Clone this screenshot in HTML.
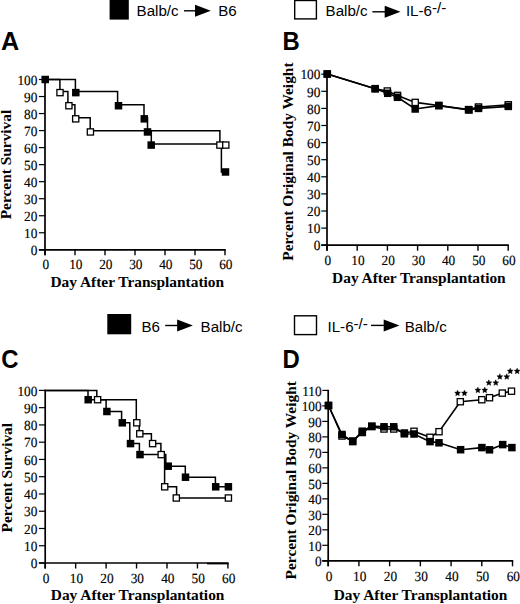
<!DOCTYPE html>
<html><head><meta charset="utf-8"><style>
html,body{margin:0;padding:0;background:#fff;}
body{width:520px;height:604px;overflow:hidden;}
svg{display:block;}
.tk{text-rendering:geometricPrecision;font-family:"Liberation Serif",serif;font-size:14px;fill:#000;stroke:#000;stroke-width:0.15px;}
.at{font-family:"Liberation Serif",serif;font-weight:bold;font-size:15.4px;fill:#000;}
.pl{font-family:"Liberation Sans",sans-serif;font-weight:bold;font-size:26px;fill:#000;}
.lg{font-family:"Liberation Sans",sans-serif;font-size:14px;fill:#000;}
</style></head><body>
<svg width="520" height="604" viewBox="0 0 520 604">
<line x1="45.0" y1="78.9" x2="45.0" y2="255.3" stroke="#000" stroke-width="1.7"/>
<line x1="38.9" y1="249.8" x2="225.7" y2="249.8" stroke="#000" stroke-width="1.7"/>
<line x1="45.0" y1="249.8" x2="45.0" y2="255.3" stroke="#000" stroke-width="1.4"/>
<text transform="translate(45.80,269.40) scale(0.95,1)" class="tk" text-anchor="middle">0</text>
<line x1="75.0" y1="249.8" x2="75.0" y2="255.3" stroke="#000" stroke-width="1.4"/>
<text transform="translate(75.80,269.40) scale(0.95,1)" class="tk" text-anchor="middle">10</text>
<line x1="105.0" y1="249.8" x2="105.0" y2="255.3" stroke="#000" stroke-width="1.4"/>
<text transform="translate(105.80,269.40) scale(0.95,1)" class="tk" text-anchor="middle">20</text>
<line x1="135.0" y1="249.8" x2="135.0" y2="255.3" stroke="#000" stroke-width="1.4"/>
<text transform="translate(135.80,269.40) scale(0.95,1)" class="tk" text-anchor="middle">30</text>
<line x1="165.0" y1="249.8" x2="165.0" y2="255.3" stroke="#000" stroke-width="1.4"/>
<text transform="translate(165.80,269.40) scale(0.95,1)" class="tk" text-anchor="middle">40</text>
<line x1="195.0" y1="249.8" x2="195.0" y2="255.3" stroke="#000" stroke-width="1.4"/>
<text transform="translate(195.80,269.40) scale(0.95,1)" class="tk" text-anchor="middle">50</text>
<line x1="225.0" y1="249.8" x2="225.0" y2="255.3" stroke="#000" stroke-width="1.4"/>
<text transform="translate(225.80,269.40) scale(0.95,1)" class="tk" text-anchor="middle">60</text>
<line x1="38.9" y1="249.8" x2="45.0" y2="249.8" stroke="#000" stroke-width="1.2"/>
<text transform="translate(37.40,255.00) scale(0.95,1)" class="tk" text-anchor="end">0</text>
<line x1="38.9" y1="232.77" x2="45.0" y2="232.77" stroke="#000" stroke-width="1.2"/>
<text transform="translate(37.40,237.97) scale(0.95,1)" class="tk" text-anchor="end">10</text>
<line x1="38.9" y1="215.74" x2="45.0" y2="215.74" stroke="#000" stroke-width="1.2"/>
<text transform="translate(37.40,220.94) scale(0.95,1)" class="tk" text-anchor="end">20</text>
<line x1="38.9" y1="198.71" x2="45.0" y2="198.71" stroke="#000" stroke-width="1.2"/>
<text transform="translate(37.40,203.91) scale(0.95,1)" class="tk" text-anchor="end">30</text>
<line x1="38.9" y1="181.68" x2="45.0" y2="181.68" stroke="#000" stroke-width="1.2"/>
<text transform="translate(37.40,186.88) scale(0.95,1)" class="tk" text-anchor="end">40</text>
<line x1="38.9" y1="164.65" x2="45.0" y2="164.65" stroke="#000" stroke-width="1.2"/>
<text transform="translate(37.40,169.85) scale(0.95,1)" class="tk" text-anchor="end">50</text>
<line x1="38.9" y1="147.62" x2="45.0" y2="147.62" stroke="#000" stroke-width="1.2"/>
<text transform="translate(37.40,152.82) scale(0.95,1)" class="tk" text-anchor="end">60</text>
<line x1="38.9" y1="130.59" x2="45.0" y2="130.59" stroke="#000" stroke-width="1.2"/>
<text transform="translate(37.40,135.79) scale(0.95,1)" class="tk" text-anchor="end">70</text>
<line x1="38.9" y1="113.56" x2="45.0" y2="113.56" stroke="#000" stroke-width="1.2"/>
<text transform="translate(37.40,118.76) scale(0.95,1)" class="tk" text-anchor="end">80</text>
<line x1="38.9" y1="96.53" x2="45.0" y2="96.53" stroke="#000" stroke-width="1.2"/>
<text transform="translate(37.40,101.73) scale(0.95,1)" class="tk" text-anchor="end">90</text>
<line x1="38.9" y1="79.5" x2="45.0" y2="79.5" stroke="#000" stroke-width="1.2"/>
<text transform="translate(37.40,84.70) scale(0.95,1)" class="tk" text-anchor="end">100</text>
<polyline points="45.00,79.50 59.90,79.50 59.90,91.51 67.90,91.51 67.90,104.63 74.90,104.63 74.90,117.74 90.20,117.74 90.20,130.85 219.90,130.85 219.90,143.97" fill="none" stroke="#000" stroke-width="1.5" stroke-linejoin="miter" stroke-linecap="square"/>
<polyline points="45.00,79.50 75.40,79.50 75.40,91.51 117.60,91.51 117.60,104.63 144.00,104.63 144.00,117.74 147.50,117.74 147.50,130.85 151.30,130.85 151.30,143.97 221.40,143.97 221.40,171.97" fill="none" stroke="#000" stroke-width="1.5" stroke-linejoin="miter" stroke-linecap="square"/>
<rect x="56.90" y="89.51" width="6.20" height="6.20" fill="#fff" stroke="#000" stroke-width="1.3"/>
<rect x="65.80" y="102.63" width="6.20" height="6.20" fill="#fff" stroke="#000" stroke-width="1.3"/>
<rect x="72.60" y="115.74" width="6.20" height="6.20" fill="#fff" stroke="#000" stroke-width="1.3"/>
<rect x="87.30" y="128.85" width="6.20" height="6.20" fill="#fff" stroke="#000" stroke-width="1.3"/>
<rect x="216.80" y="141.97" width="6.20" height="6.20" fill="#fff" stroke="#000" stroke-width="1.3"/>
<rect x="222.70" y="141.97" width="6.20" height="6.20" fill="#fff" stroke="#000" stroke-width="1.3"/>
<rect x="41.45" y="75.75" width="7.50" height="7.50" fill="#000"/>
<rect x="72.05" y="88.86" width="7.50" height="7.50" fill="#000"/>
<rect x="114.75" y="101.98" width="7.50" height="7.50" fill="#000"/>
<rect x="140.55" y="115.09" width="7.50" height="7.50" fill="#000"/>
<rect x="143.75" y="128.20" width="7.50" height="7.50" fill="#000"/>
<rect x="147.45" y="141.32" width="7.50" height="7.50" fill="#000"/>
<rect x="221.75" y="168.22" width="7.50" height="7.50" fill="#000"/>
<line x1="327.0" y1="73.6" x2="327.0" y2="250.7" stroke="#000" stroke-width="1.7"/>
<line x1="321.3" y1="245.2" x2="508.9" y2="245.2" stroke="#000" stroke-width="1.7"/>
<line x1="327.0" y1="245.2" x2="327.0" y2="250.7" stroke="#000" stroke-width="1.4"/>
<text transform="translate(327.80,265.00) scale(0.95,1)" class="tk" text-anchor="middle">0</text>
<line x1="357.2" y1="245.2" x2="357.2" y2="250.7" stroke="#000" stroke-width="1.4"/>
<text transform="translate(358.00,265.00) scale(0.95,1)" class="tk" text-anchor="middle">10</text>
<line x1="387.4" y1="245.2" x2="387.4" y2="250.7" stroke="#000" stroke-width="1.4"/>
<text transform="translate(388.20,265.00) scale(0.95,1)" class="tk" text-anchor="middle">20</text>
<line x1="417.6" y1="245.2" x2="417.6" y2="250.7" stroke="#000" stroke-width="1.4"/>
<text transform="translate(418.40,265.00) scale(0.95,1)" class="tk" text-anchor="middle">30</text>
<line x1="447.8" y1="245.2" x2="447.8" y2="250.7" stroke="#000" stroke-width="1.4"/>
<text transform="translate(448.60,265.00) scale(0.95,1)" class="tk" text-anchor="middle">40</text>
<line x1="478.0" y1="245.2" x2="478.0" y2="250.7" stroke="#000" stroke-width="1.4"/>
<text transform="translate(478.80,265.00) scale(0.95,1)" class="tk" text-anchor="middle">50</text>
<line x1="508.2" y1="245.2" x2="508.2" y2="250.7" stroke="#000" stroke-width="1.4"/>
<text transform="translate(509.00,265.00) scale(0.95,1)" class="tk" text-anchor="middle">60</text>
<line x1="321.3" y1="245.2" x2="327.0" y2="245.2" stroke="#000" stroke-width="1.2"/>
<text transform="translate(320.40,250.40) scale(0.95,1)" class="tk" text-anchor="end">0</text>
<line x1="321.3" y1="228.1" x2="327.0" y2="228.1" stroke="#000" stroke-width="1.2"/>
<text transform="translate(320.40,233.30) scale(0.95,1)" class="tk" text-anchor="end">10</text>
<line x1="321.3" y1="211.0" x2="327.0" y2="211.0" stroke="#000" stroke-width="1.2"/>
<text transform="translate(320.40,216.20) scale(0.95,1)" class="tk" text-anchor="end">20</text>
<line x1="321.3" y1="193.89999999999998" x2="327.0" y2="193.89999999999998" stroke="#000" stroke-width="1.2"/>
<text transform="translate(320.40,199.10) scale(0.95,1)" class="tk" text-anchor="end">30</text>
<line x1="321.3" y1="176.79999999999998" x2="327.0" y2="176.79999999999998" stroke="#000" stroke-width="1.2"/>
<text transform="translate(320.40,182.00) scale(0.95,1)" class="tk" text-anchor="end">40</text>
<line x1="321.3" y1="159.7" x2="327.0" y2="159.7" stroke="#000" stroke-width="1.2"/>
<text transform="translate(320.40,164.90) scale(0.95,1)" class="tk" text-anchor="end">50</text>
<line x1="321.3" y1="142.6" x2="327.0" y2="142.6" stroke="#000" stroke-width="1.2"/>
<text transform="translate(320.40,147.80) scale(0.95,1)" class="tk" text-anchor="end">60</text>
<line x1="321.3" y1="125.49999999999999" x2="327.0" y2="125.49999999999999" stroke="#000" stroke-width="1.2"/>
<text transform="translate(320.40,130.70) scale(0.95,1)" class="tk" text-anchor="end">70</text>
<line x1="321.3" y1="108.39999999999998" x2="327.0" y2="108.39999999999998" stroke="#000" stroke-width="1.2"/>
<text transform="translate(320.40,113.60) scale(0.95,1)" class="tk" text-anchor="end">80</text>
<line x1="321.3" y1="91.29999999999998" x2="327.0" y2="91.29999999999998" stroke="#000" stroke-width="1.2"/>
<text transform="translate(320.40,96.50) scale(0.95,1)" class="tk" text-anchor="end">90</text>
<line x1="321.3" y1="74.19999999999999" x2="327.0" y2="74.19999999999999" stroke="#000" stroke-width="1.2"/>
<text transform="translate(320.40,79.40) scale(0.95,1)" class="tk" text-anchor="end">100</text>
<polyline points="327.30,74.00 375.20,88.70 387.30,91.00 397.50,95.40 415.20,102.40 438.80,105.50 468.50,109.60 478.50,107.00 508.30,104.80" fill="none" stroke="#000" stroke-width="1.6" stroke-linejoin="miter" stroke-linecap="square"/>
<polyline points="327.30,74.00 375.20,88.70 387.70,93.30 397.50,97.30 415.20,109.00 438.80,105.60 469.00,110.00 478.50,108.40 508.30,106.40" fill="none" stroke="#000" stroke-width="1.6" stroke-linejoin="miter" stroke-linecap="square"/>
<rect x="324.20" y="70.90" width="6.20" height="6.20" fill="#fff" stroke="#000" stroke-width="1.3"/>
<rect x="372.10" y="85.60" width="6.20" height="6.20" fill="#fff" stroke="#000" stroke-width="1.3"/>
<rect x="384.20" y="87.90" width="6.20" height="6.20" fill="#fff" stroke="#000" stroke-width="1.3"/>
<rect x="394.40" y="92.30" width="6.20" height="6.20" fill="#fff" stroke="#000" stroke-width="1.3"/>
<rect x="412.10" y="99.30" width="6.20" height="6.20" fill="#fff" stroke="#000" stroke-width="1.3"/>
<rect x="435.70" y="102.40" width="6.20" height="6.20" fill="#fff" stroke="#000" stroke-width="1.3"/>
<rect x="465.40" y="106.50" width="6.20" height="6.20" fill="#fff" stroke="#000" stroke-width="1.3"/>
<rect x="475.40" y="103.90" width="6.20" height="6.20" fill="#fff" stroke="#000" stroke-width="1.3"/>
<rect x="505.20" y="101.70" width="6.20" height="6.20" fill="#fff" stroke="#000" stroke-width="1.3"/>
<rect x="323.55" y="70.25" width="7.50" height="7.50" fill="#000"/>
<rect x="371.45" y="84.95" width="7.50" height="7.50" fill="#000"/>
<rect x="383.95" y="89.55" width="7.50" height="7.50" fill="#000"/>
<rect x="393.75" y="93.55" width="7.50" height="7.50" fill="#000"/>
<rect x="411.45" y="105.25" width="7.50" height="7.50" fill="#000"/>
<rect x="435.05" y="101.85" width="7.50" height="7.50" fill="#000"/>
<rect x="465.25" y="106.25" width="7.50" height="7.50" fill="#000"/>
<rect x="474.75" y="104.65" width="7.50" height="7.50" fill="#000"/>
<rect x="504.55" y="102.65" width="7.50" height="7.50" fill="#000"/>
<line x1="45.2" y1="389.79999999999995" x2="45.2" y2="568.5" stroke="#000" stroke-width="1.7"/>
<line x1="38.9" y1="563.0" x2="228.59999999999997" y2="563.0" stroke="#000" stroke-width="1.7"/>
<line x1="45.2" y1="563.0" x2="45.2" y2="568.5" stroke="#000" stroke-width="1.4"/>
<text transform="translate(46.00,582.80) scale(0.95,1)" class="tk" text-anchor="middle">0</text>
<line x1="75.65" y1="563.0" x2="75.65" y2="568.5" stroke="#000" stroke-width="1.4"/>
<text transform="translate(76.45,582.80) scale(0.95,1)" class="tk" text-anchor="middle">10</text>
<line x1="106.1" y1="563.0" x2="106.1" y2="568.5" stroke="#000" stroke-width="1.4"/>
<text transform="translate(106.90,582.80) scale(0.95,1)" class="tk" text-anchor="middle">20</text>
<line x1="136.55" y1="563.0" x2="136.55" y2="568.5" stroke="#000" stroke-width="1.4"/>
<text transform="translate(137.35,582.80) scale(0.95,1)" class="tk" text-anchor="middle">30</text>
<line x1="167.0" y1="563.0" x2="167.0" y2="568.5" stroke="#000" stroke-width="1.4"/>
<text transform="translate(167.80,582.80) scale(0.95,1)" class="tk" text-anchor="middle">40</text>
<line x1="197.45" y1="563.0" x2="197.45" y2="568.5" stroke="#000" stroke-width="1.4"/>
<text transform="translate(198.25,582.80) scale(0.95,1)" class="tk" text-anchor="middle">50</text>
<line x1="227.89999999999998" y1="563.0" x2="227.89999999999998" y2="568.5" stroke="#000" stroke-width="1.4"/>
<text transform="translate(228.70,582.80) scale(0.95,1)" class="tk" text-anchor="middle">60</text>
<line x1="38.9" y1="563.0" x2="45.2" y2="563.0" stroke="#000" stroke-width="1.2"/>
<text transform="translate(37.40,568.20) scale(0.95,1)" class="tk" text-anchor="end">0</text>
<line x1="38.9" y1="545.74" x2="45.2" y2="545.74" stroke="#000" stroke-width="1.2"/>
<text transform="translate(37.40,550.94) scale(0.95,1)" class="tk" text-anchor="end">10</text>
<line x1="38.9" y1="528.48" x2="45.2" y2="528.48" stroke="#000" stroke-width="1.2"/>
<text transform="translate(37.40,533.68) scale(0.95,1)" class="tk" text-anchor="end">20</text>
<line x1="38.9" y1="511.22" x2="45.2" y2="511.22" stroke="#000" stroke-width="1.2"/>
<text transform="translate(37.40,516.42) scale(0.95,1)" class="tk" text-anchor="end">30</text>
<line x1="38.9" y1="493.96000000000004" x2="45.2" y2="493.96000000000004" stroke="#000" stroke-width="1.2"/>
<text transform="translate(37.40,499.16) scale(0.95,1)" class="tk" text-anchor="end">40</text>
<line x1="38.9" y1="476.7" x2="45.2" y2="476.7" stroke="#000" stroke-width="1.2"/>
<text transform="translate(37.40,481.90) scale(0.95,1)" class="tk" text-anchor="end">50</text>
<line x1="38.9" y1="459.44" x2="45.2" y2="459.44" stroke="#000" stroke-width="1.2"/>
<text transform="translate(37.40,464.64) scale(0.95,1)" class="tk" text-anchor="end">60</text>
<line x1="38.9" y1="442.18" x2="45.2" y2="442.18" stroke="#000" stroke-width="1.2"/>
<text transform="translate(37.40,447.38) scale(0.95,1)" class="tk" text-anchor="end">70</text>
<line x1="38.9" y1="424.92" x2="45.2" y2="424.92" stroke="#000" stroke-width="1.2"/>
<text transform="translate(37.40,430.12) scale(0.95,1)" class="tk" text-anchor="end">80</text>
<line x1="38.9" y1="407.65999999999997" x2="45.2" y2="407.65999999999997" stroke="#000" stroke-width="1.2"/>
<text transform="translate(37.40,412.86) scale(0.95,1)" class="tk" text-anchor="end">90</text>
<line x1="38.9" y1="390.4" x2="45.2" y2="390.4" stroke="#000" stroke-width="1.2"/>
<text transform="translate(37.40,395.60) scale(0.95,1)" class="tk" text-anchor="end">100</text>
<polyline points="45.20,390.40 96.80,390.40 96.80,399.70 136.30,399.70 136.30,422.80 139.20,422.80 139.20,433.80 151.40,433.80 151.40,443.60 160.90,443.60 160.90,454.60 164.60,454.60 164.60,486.80 176.60,486.80 176.60,498.00 228.40,498.00" fill="none" stroke="#000" stroke-width="1.5" stroke-linejoin="miter" stroke-linecap="square"/>
<polyline points="45.20,390.40 88.00,390.40 88.00,399.70 106.10,399.70 106.10,411.50 121.60,411.50 121.60,422.80 129.80,422.80 129.80,443.60 139.40,443.60 139.40,454.60 165.80,454.60 165.80,466.20 185.30,466.20 185.30,477.20 215.40,477.20 215.40,486.80 228.40,486.80" fill="none" stroke="#000" stroke-width="1.5" stroke-linejoin="miter" stroke-linecap="square"/>
<line x1="207" y1="563.6" x2="228.4" y2="563.6" stroke="#000" stroke-width="1.6"/>
<rect x="94.50" y="396.60" width="6.20" height="6.20" fill="#fff" stroke="#000" stroke-width="1.3"/>
<rect x="133.70" y="419.70" width="6.20" height="6.20" fill="#fff" stroke="#000" stroke-width="1.3"/>
<rect x="136.70" y="430.70" width="6.20" height="6.20" fill="#fff" stroke="#000" stroke-width="1.3"/>
<rect x="149.50" y="440.50" width="6.20" height="6.20" fill="#fff" stroke="#000" stroke-width="1.3"/>
<rect x="158.10" y="451.50" width="6.20" height="6.20" fill="#fff" stroke="#000" stroke-width="1.3"/>
<rect x="161.60" y="483.70" width="6.20" height="6.20" fill="#fff" stroke="#000" stroke-width="1.3"/>
<rect x="173.20" y="494.90" width="6.20" height="6.20" fill="#fff" stroke="#000" stroke-width="1.3"/>
<rect x="225.30" y="494.90" width="6.20" height="6.20" fill="#fff" stroke="#000" stroke-width="1.3"/>
<rect x="84.45" y="395.95" width="7.50" height="7.50" fill="#000"/>
<rect x="103.15" y="407.75" width="7.50" height="7.50" fill="#000"/>
<rect x="118.55" y="419.05" width="7.50" height="7.50" fill="#000"/>
<rect x="126.75" y="439.85" width="7.50" height="7.50" fill="#000"/>
<rect x="136.25" y="450.85" width="7.50" height="7.50" fill="#000"/>
<rect x="164.45" y="462.45" width="7.50" height="7.50" fill="#000"/>
<rect x="181.75" y="473.45" width="7.50" height="7.50" fill="#000"/>
<rect x="211.95" y="483.05" width="7.50" height="7.50" fill="#000"/>
<rect x="224.65" y="483.05" width="7.50" height="7.50" fill="#000"/>
<line x1="328.2" y1="389.80999999999995" x2="328.2" y2="566.3" stroke="#000" stroke-width="1.7"/>
<line x1="322.3" y1="560.8" x2="513.22" y2="560.8" stroke="#000" stroke-width="1.7"/>
<line x1="328.2" y1="560.8" x2="328.2" y2="566.3" stroke="#000" stroke-width="1.4"/>
<text transform="translate(329.00,580.60) scale(0.95,1)" class="tk" text-anchor="middle">0</text>
<line x1="358.91999999999996" y1="560.8" x2="358.91999999999996" y2="566.3" stroke="#000" stroke-width="1.4"/>
<text transform="translate(359.72,580.60) scale(0.95,1)" class="tk" text-anchor="middle">10</text>
<line x1="389.64" y1="560.8" x2="389.64" y2="566.3" stroke="#000" stroke-width="1.4"/>
<text transform="translate(390.44,580.60) scale(0.95,1)" class="tk" text-anchor="middle">20</text>
<line x1="420.36" y1="560.8" x2="420.36" y2="566.3" stroke="#000" stroke-width="1.4"/>
<text transform="translate(421.16,580.60) scale(0.95,1)" class="tk" text-anchor="middle">30</text>
<line x1="451.08" y1="560.8" x2="451.08" y2="566.3" stroke="#000" stroke-width="1.4"/>
<text transform="translate(451.88,580.60) scale(0.95,1)" class="tk" text-anchor="middle">40</text>
<line x1="481.79999999999995" y1="560.8" x2="481.79999999999995" y2="566.3" stroke="#000" stroke-width="1.4"/>
<text transform="translate(482.60,580.60) scale(0.95,1)" class="tk" text-anchor="middle">50</text>
<line x1="512.52" y1="560.8" x2="512.52" y2="566.3" stroke="#000" stroke-width="1.4"/>
<text transform="translate(513.32,580.60) scale(0.95,1)" class="tk" text-anchor="middle">60</text>
<line x1="322.3" y1="560.8" x2="328.2" y2="560.8" stroke="#000" stroke-width="1.2"/>
<text transform="translate(321.60,566.00) scale(0.95,1)" class="tk" text-anchor="end">0</text>
<line x1="322.3" y1="545.31" x2="328.2" y2="545.31" stroke="#000" stroke-width="1.2"/>
<text transform="translate(321.60,550.51) scale(0.95,1)" class="tk" text-anchor="end">10</text>
<line x1="322.3" y1="529.8199999999999" x2="328.2" y2="529.8199999999999" stroke="#000" stroke-width="1.2"/>
<text transform="translate(321.60,535.02) scale(0.95,1)" class="tk" text-anchor="end">20</text>
<line x1="322.3" y1="514.3299999999999" x2="328.2" y2="514.3299999999999" stroke="#000" stroke-width="1.2"/>
<text transform="translate(321.60,519.53) scale(0.95,1)" class="tk" text-anchor="end">30</text>
<line x1="322.3" y1="498.84" x2="328.2" y2="498.84" stroke="#000" stroke-width="1.2"/>
<text transform="translate(321.60,504.04) scale(0.95,1)" class="tk" text-anchor="end">40</text>
<line x1="322.3" y1="483.34999999999997" x2="328.2" y2="483.34999999999997" stroke="#000" stroke-width="1.2"/>
<text transform="translate(321.60,488.55) scale(0.95,1)" class="tk" text-anchor="end">50</text>
<line x1="322.3" y1="467.85999999999996" x2="328.2" y2="467.85999999999996" stroke="#000" stroke-width="1.2"/>
<text transform="translate(321.60,473.06) scale(0.95,1)" class="tk" text-anchor="end">60</text>
<line x1="322.3" y1="452.36999999999995" x2="328.2" y2="452.36999999999995" stroke="#000" stroke-width="1.2"/>
<text transform="translate(321.60,457.57) scale(0.95,1)" class="tk" text-anchor="end">70</text>
<line x1="322.3" y1="436.88" x2="328.2" y2="436.88" stroke="#000" stroke-width="1.2"/>
<text transform="translate(321.60,442.08) scale(0.95,1)" class="tk" text-anchor="end">80</text>
<line x1="322.3" y1="421.39" x2="328.2" y2="421.39" stroke="#000" stroke-width="1.2"/>
<text transform="translate(321.60,426.59) scale(0.95,1)" class="tk" text-anchor="end">90</text>
<line x1="322.3" y1="405.9" x2="328.2" y2="405.9" stroke="#000" stroke-width="1.2"/>
<text transform="translate(321.60,411.10) scale(0.95,1)" class="tk" text-anchor="end">100</text>
<line x1="322.3" y1="390.40999999999997" x2="328.2" y2="390.40999999999997" stroke="#000" stroke-width="1.2"/>
<text transform="translate(321.60,395.61) scale(0.95,1)" class="tk" text-anchor="end">110</text>
<polyline points="328.50,405.50 342.00,436.00 352.70,441.00 362.30,432.50 371.80,426.60 384.00,429.00 393.70,429.00 404.40,433.00 414.00,431.30 430.00,437.30 439.00,431.70 460.30,401.70 481.80,399.70 489.50,397.70 502.30,393.10 511.50,391.20" fill="none" stroke="#000" stroke-width="1.6" stroke-linejoin="miter" stroke-linecap="square"/>
<polyline points="328.50,405.50 342.00,434.50 352.70,441.60 362.30,431.20 371.80,426.10 384.00,426.80 393.70,426.80 404.40,433.80 414.00,434.00 430.00,441.60 439.00,442.80 460.60,449.70 481.90,447.60 489.50,449.80 502.70,444.60 511.90,447.60" fill="none" stroke="#000" stroke-width="1.6" stroke-linejoin="miter" stroke-linecap="square"/>
<rect x="325.40" y="402.40" width="6.20" height="6.20" fill="#fff" stroke="#000" stroke-width="1.3"/>
<rect x="338.90" y="432.90" width="6.20" height="6.20" fill="#fff" stroke="#000" stroke-width="1.3"/>
<rect x="349.60" y="437.90" width="6.20" height="6.20" fill="#fff" stroke="#000" stroke-width="1.3"/>
<rect x="359.20" y="429.40" width="6.20" height="6.20" fill="#fff" stroke="#000" stroke-width="1.3"/>
<rect x="368.70" y="423.50" width="6.20" height="6.20" fill="#fff" stroke="#000" stroke-width="1.3"/>
<rect x="380.90" y="425.90" width="6.20" height="6.20" fill="#fff" stroke="#000" stroke-width="1.3"/>
<rect x="390.60" y="425.90" width="6.20" height="6.20" fill="#fff" stroke="#000" stroke-width="1.3"/>
<rect x="401.30" y="429.90" width="6.20" height="6.20" fill="#fff" stroke="#000" stroke-width="1.3"/>
<rect x="410.90" y="428.20" width="6.20" height="6.20" fill="#fff" stroke="#000" stroke-width="1.3"/>
<rect x="426.90" y="434.20" width="6.20" height="6.20" fill="#fff" stroke="#000" stroke-width="1.3"/>
<rect x="435.90" y="428.60" width="6.20" height="6.20" fill="#fff" stroke="#000" stroke-width="1.3"/>
<rect x="457.20" y="398.60" width="6.20" height="6.20" fill="#fff" stroke="#000" stroke-width="1.3"/>
<rect x="478.70" y="396.60" width="6.20" height="6.20" fill="#fff" stroke="#000" stroke-width="1.3"/>
<rect x="486.40" y="394.60" width="6.20" height="6.20" fill="#fff" stroke="#000" stroke-width="1.3"/>
<rect x="499.20" y="390.00" width="6.20" height="6.20" fill="#fff" stroke="#000" stroke-width="1.3"/>
<rect x="508.40" y="388.10" width="6.20" height="6.20" fill="#fff" stroke="#000" stroke-width="1.3"/>
<rect x="324.75" y="401.75" width="7.50" height="7.50" fill="#000"/>
<rect x="338.25" y="430.75" width="7.50" height="7.50" fill="#000"/>
<rect x="348.95" y="437.85" width="7.50" height="7.50" fill="#000"/>
<rect x="358.55" y="427.45" width="7.50" height="7.50" fill="#000"/>
<rect x="368.05" y="422.35" width="7.50" height="7.50" fill="#000"/>
<rect x="380.25" y="423.05" width="7.50" height="7.50" fill="#000"/>
<rect x="389.95" y="423.05" width="7.50" height="7.50" fill="#000"/>
<rect x="400.65" y="430.05" width="7.50" height="7.50" fill="#000"/>
<rect x="410.25" y="430.25" width="7.50" height="7.50" fill="#000"/>
<rect x="426.25" y="437.85" width="7.50" height="7.50" fill="#000"/>
<rect x="435.25" y="439.05" width="7.50" height="7.50" fill="#000"/>
<rect x="456.85" y="445.95" width="7.50" height="7.50" fill="#000"/>
<rect x="478.15" y="443.85" width="7.50" height="7.50" fill="#000"/>
<rect x="485.75" y="446.05" width="7.50" height="7.50" fill="#000"/>
<rect x="498.95" y="440.85" width="7.50" height="7.50" fill="#000"/>
<rect x="508.15" y="443.85" width="7.50" height="7.50" fill="#000"/>
<polygon points="457.55,390.15 458.39,392.04 460.45,392.26 458.91,393.64 459.34,395.67 457.55,394.63 455.76,395.67 456.19,393.64 454.65,392.26 456.71,392.04" fill="#000" stroke="#000" stroke-width="0.45" stroke-linejoin="round"/>
<polygon points="464.45,390.15 465.29,392.04 467.35,392.26 465.81,393.64 466.24,395.67 464.45,394.63 462.66,395.67 463.09,393.64 461.55,392.26 463.61,392.04" fill="#000" stroke="#000" stroke-width="0.45" stroke-linejoin="round"/>
<polygon points="477.85,387.15 478.69,389.04 480.75,389.26 479.21,390.64 479.64,392.67 477.85,391.63 476.06,392.67 476.49,390.64 474.95,389.26 477.01,389.04" fill="#000" stroke="#000" stroke-width="0.45" stroke-linejoin="round"/>
<polygon points="484.75,387.15 485.59,389.04 487.65,389.26 486.11,390.64 486.54,392.67 484.75,391.63 482.96,392.67 483.39,390.64 481.85,389.26 483.91,389.04" fill="#000" stroke="#000" stroke-width="0.45" stroke-linejoin="round"/>
<polygon points="488.85,379.85 489.69,381.74 491.75,381.96 490.21,383.34 490.64,385.37 488.85,384.33 487.06,385.37 487.49,383.34 485.95,381.96 488.01,381.74" fill="#000" stroke="#000" stroke-width="0.45" stroke-linejoin="round"/>
<polygon points="495.75,379.85 496.59,381.74 498.65,381.96 497.11,383.34 497.54,385.37 495.75,384.33 493.96,385.37 494.39,383.34 492.85,381.96 494.91,381.74" fill="#000" stroke="#000" stroke-width="0.45" stroke-linejoin="round"/>
<polygon points="499.85,373.75 500.69,375.64 502.75,375.86 501.21,377.24 501.64,379.27 499.85,378.23 498.06,379.27 498.49,377.24 496.95,375.86 499.01,375.64" fill="#000" stroke="#000" stroke-width="0.45" stroke-linejoin="round"/>
<polygon points="506.75,373.75 507.59,375.64 509.65,375.86 508.11,377.24 508.54,379.27 506.75,378.23 504.96,379.27 505.39,377.24 503.85,375.86 505.91,375.64" fill="#000" stroke="#000" stroke-width="0.45" stroke-linejoin="round"/>
<polygon points="510.25,368.15 511.09,370.04 513.15,370.26 511.61,371.64 512.04,373.67 510.25,372.63 508.46,373.67 508.89,371.64 507.35,370.26 509.41,370.04" fill="#000" stroke="#000" stroke-width="0.45" stroke-linejoin="round"/>
<polygon points="517.15,368.15 517.99,370.04 520.05,370.26 518.51,371.64 518.94,373.67 517.15,372.63 515.36,373.67 515.79,371.64 514.25,370.26 516.31,370.04" fill="#000" stroke="#000" stroke-width="0.45" stroke-linejoin="round"/>
<rect x="109.6" y="-1" width="19.2" height="20.6" fill="#000"/>
<text transform="translate(136.60,15.80) scale(1.08,1)" class="lg" text-anchor="start">Balb/c</text>
<line x1="184.0" y1="10.8" x2="197.0" y2="10.8" stroke="#000" stroke-width="1.4"/>
<polygon points="195.0,4.800000000000001 210.8,10.8 195.0,16.8" fill="#000"/>
<text transform="translate(218.20,15.80) scale(1.08,1)" class="lg" text-anchor="start">B6</text>
<rect x="294.7" y="0.5" width="21.7" height="18.4" fill="none" stroke="#000" stroke-width="1.4"/>
<text transform="translate(325.60,16.00) scale(1.08,1)" class="lg" text-anchor="start">Balb/c</text>
<line x1="372.4" y1="11.8" x2="386.7" y2="11.8" stroke="#000" stroke-width="1.4"/>
<polygon points="384.7,5.800000000000001 400.5,11.8 384.7,17.8" fill="#000"/>
<text transform="translate(405.90,16.20) scale(1.08,1)" class="lg" text-anchor="start">IL-6<tspan dy="-3.4">-/-</tspan></text>
<rect x="107.3" y="314.0" width="23.9" height="20.3" fill="#000"/>
<text transform="translate(141.40,331.90) scale(1.08,1)" class="lg" text-anchor="start">B6</text>
<line x1="165.2" y1="325.5" x2="179.1" y2="325.5" stroke="#000" stroke-width="1.4"/>
<polygon points="177.1,319.5 192.9,325.5 177.1,331.5" fill="#000"/>
<text transform="translate(200.60,331.80) scale(1.08,1)" class="lg" text-anchor="start">Balb/c</text>
<rect x="294.5" y="315.8" width="22" height="18.8" fill="none" stroke="#000" stroke-width="1.4"/>
<text transform="translate(327.50,331.70) scale(1.08,1)" class="lg" text-anchor="start">IL-6<tspan dy="-2.8">-/-</tspan></text>
<line x1="371.0" y1="325.4" x2="385.7" y2="325.4" stroke="#000" stroke-width="1.4"/>
<polygon points="383.7,319.4 399.5,325.4 383.7,331.4" fill="#000"/>
<text transform="translate(404.70,331.60) scale(1.08,1)" class="lg" text-anchor="start">Balb/c</text>
<text transform="translate(1.00,49.90) scale(0.97,1)" class="pl" text-anchor="start">A</text>
<text transform="translate(282.40,50.00) scale(0.92,1)" class="pl" text-anchor="start">B</text>
<text transform="translate(1.30,368.00) scale(0.92,1)" class="pl" text-anchor="start">C</text>
<text transform="translate(282.40,367.60) scale(0.92,1)" class="pl" text-anchor="start">D</text>
<text x="137.30" y="287.30" class="at" text-anchor="middle">Day After Transplantation</text>
<text x="418.90" y="283.00" class="at" text-anchor="middle">Day After Transplantation</text>
<text x="137.60" y="600.00" class="at" text-anchor="middle">Day After Transplantation</text>
<text x="420.50" y="600.00" class="at" text-anchor="middle">Day After Transplantation</text>
<text class="at" text-anchor="middle" transform="translate(11.2,164.5) rotate(-90)">Percent Survival</text>
<text class="at" text-anchor="middle" transform="translate(292.9,161.6) rotate(-90)">Percent Original Body Weight</text>
<text class="at" text-anchor="middle" transform="translate(12.2,477.7) rotate(-90)">Percent Survival</text>
<text class="at" text-anchor="middle" transform="translate(296.0,480.3) rotate(-90)">Percent Original Body Weight</text>
</svg>
</body></html>
